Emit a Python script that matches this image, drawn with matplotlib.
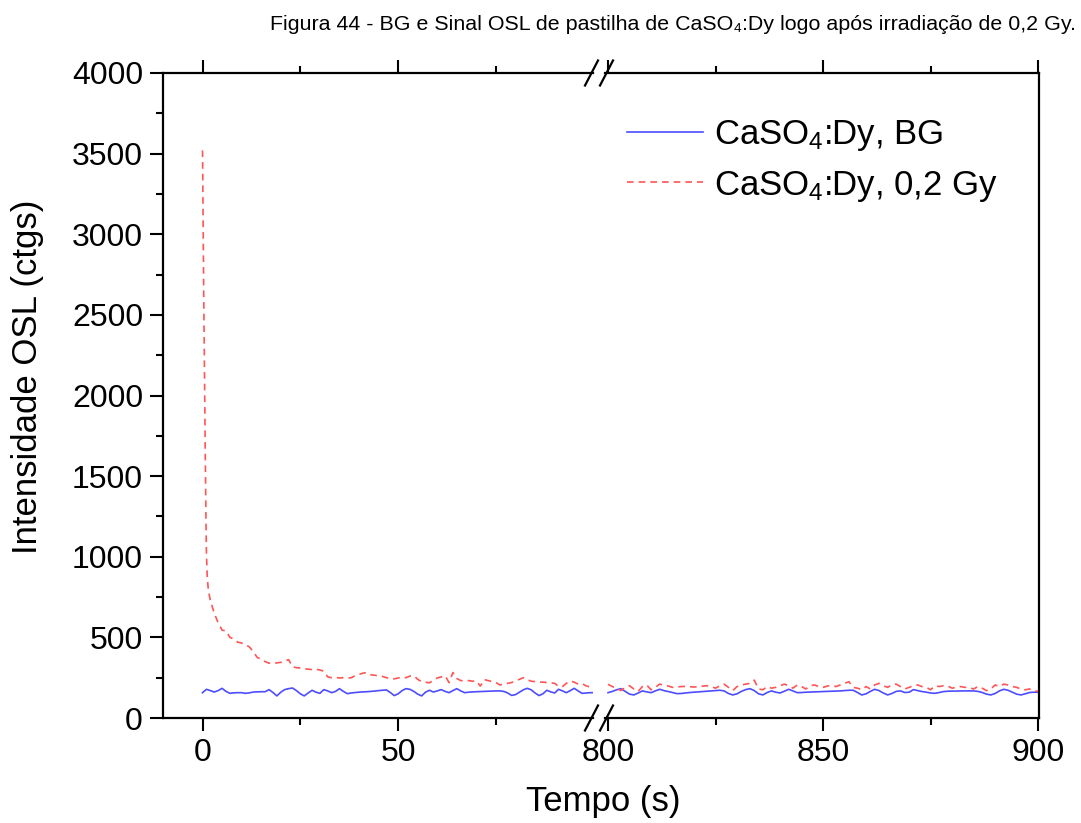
import matplotlib
matplotlib.use("Agg")
import matplotlib.pyplot as plt
from matplotlib.lines import Line2D
from matplotlib.ticker import MultipleLocator

plt.rcParams['font.family'] = ['Liberation Sans', 'DejaVu Sans']
plt.rcParams['mathtext.fontset'] = 'custom'
plt.rcParams['mathtext.rm'] = 'Liberation Sans'
plt.rcParams['mathtext.it'] = 'Liberation Sans'

title = "Figura 44 - BG e Sinal OSL de pastilha de CaSO\u2084:Dy logo após irradiação de 0,2 Gy."
xlabel = "Tempo (s)"
ylabel = "Intensidade OSL (ctgs)"
label_bg = r"CaSO$_4$:Dy, BG"
label_dose = r"CaSO$_4$:Dy, 0,2 Gy"

# ---- left segment (0-100 s) ----
red_left_t = [0, 0.1, 0.2, 0.3, 0.4, 0.5, 0.6, 0.7, 0.8, 0.9, 1.0, 1.2, 1.5, 2] + list(range(3, 101))
red_left_v = [3520, 3250, 2950, 2650, 2400, 2150, 1900, 1650, 1420, 1200, 1020, 880, 790, 730,
              650, 590, 545, 540, 500, 490, 470, 465, 455, 440,
              410, 375, 365, 350, 340, 338, 342, 345, 352, 362,
              318, 312, 310, 305, 303, 300, 302, 298, 290, 255,
              250, 252, 248, 250, 247, 250, 262, 270, 278, 282,
              268, 265, 262, 258, 250, 245, 243, 248, 252, 250,
              260, 262, 240, 225, 222, 218, 235, 248, 255, 262,
              220, 282, 245, 232, 230, 232, 228, 230, 198, 238,
              232, 226, 220, 205, 210, 215, 220, 230, 240, 250,
              238, 228, 226, 224, 222, 220, 218, 215, 196, 195,
              215, 230, 222, 210, 212, 200, 192, 186]

blue_left_t = list(range(0, 101))
blue_left_v = [157, 178, 170, 161, 170, 184, 165, 153, 156, 157,
               157, 153, 156, 161, 162, 163, 163, 176, 158, 137,
               160, 176, 182, 186, 170, 150, 137, 155, 172, 160,
               153, 176, 168, 157, 165, 182, 165, 151, 155, 158,
               160, 162, 163, 165, 167, 170, 172, 174, 158, 139,
               150, 170, 182, 178, 165, 148, 137, 160, 172, 161,
               168, 176, 165, 157, 170, 182, 168, 157, 160, 162,
               163, 164, 165, 166, 167, 168, 168, 165, 155, 140,
               145, 160, 175, 184, 175, 155, 139, 150, 172, 162,
               155, 178, 168, 157, 170, 184, 168, 153, 155, 157, 157]

# ---- right segment (800-900 s) ----
blue_right_t = list(range(800, 901))
blue_right_v = [157, 165, 175, 182, 165, 148, 143, 155, 168, 162,
                157, 168, 178, 170, 164, 158, 151, 152, 155, 158,
                160, 162, 164, 166, 168, 170, 172, 168, 152, 143,
                150, 165, 176, 182, 170, 150, 143, 158, 168, 160,
                155, 166, 178, 168, 157, 158, 160, 161, 162, 163,
                164, 165, 166, 167, 168, 170, 172, 172, 158, 143,
                150, 165, 178, 170, 155, 143, 152, 165, 168, 158,
                160, 176, 170, 164, 160, 155, 153, 158, 164, 166,
                167, 167, 168, 168, 168, 168, 165, 158, 148, 143,
                152, 168, 178, 172, 160, 148, 143, 150, 158, 160, 160]

red_right_t = list(range(800, 901))
red_right_v = [209, 195, 185, 170, 190, 200, 180, 165, 195, 205,
               175, 190, 210, 205, 198, 190, 192, 195, 196, 194,
               192, 195, 198, 200, 195, 185, 200, 210, 190, 170,
               195, 205, 210, 215, 235, 180, 175, 195, 185, 190,
               200, 210, 200, 185, 205, 195, 180, 200, 205, 195,
               190, 198, 202, 195, 205, 215, 225, 190, 185, 175,
               195, 180, 205, 215, 200, 190, 205, 210, 195, 180,
               190, 200, 205, 195, 190, 175, 200, 195, 200, 198,
               185, 190, 195, 190, 188, 180, 195, 185, 170, 180,
               205, 195, 210, 205, 195, 190, 180, 175, 180, 170, 165]

W, H = 1081, 823
fig = plt.figure(figsize=(W / 100, H / 100), dpi=100)

def fx(px):
    return px / W

def fy(py):
    return (H - py) / H

top_px, bot_px = 73, 718
axL = fig.add_axes([fx(163), fy(bot_px), fx(593 - 163), (bot_px - top_px) / H])
axR = fig.add_axes([fx(605), fy(bot_px), fx(1039 - 605), (bot_px - top_px) / H])

blue = '#4d4dff'
red = '#ff5555'
for ax in (axL, axR):
    ax.plot(blue_left_t if ax is axL else blue_right_t,
            blue_left_v if ax is axL else blue_right_v,
            color=blue, lw=1.2, label=label_bg)
    ax.plot(red_left_t if ax is axL else red_right_t,
            red_left_v if ax is axL else red_right_v,
            color=red, lw=1.2, ls=(0, (4, 3)), label=label_dose)
    ax.set_ylim(0, 4000)
    for s in ax.spines.values():
        s.set_linewidth(1.6)
    ax.xaxis.set_major_locator(MultipleLocator(50))
    ax.xaxis.set_minor_locator(MultipleLocator(25))
    ax.tick_params(axis='x', which='major', direction='out', length=9.4, width=1.5,
                   top=True, bottom=True, labelsize=23, pad=5)
    ax.tick_params(axis='x', which='minor', direction='out', length=5, width=1.5,
                   top=True, bottom=True)

axL.set_xlim(-10.1, 99.8)
axR.set_xlim(799.3, 900.2)

axL.spines['right'].set_visible(False)
axR.spines['left'].set_visible(False)

axL.yaxis.set_major_locator(MultipleLocator(500))
axL.yaxis.set_minor_locator(MultipleLocator(250))
axL.tick_params(axis='y', which='major', direction='out', length=9.4, width=1.5,
                labelsize=23, pad=5)
axL.tick_params(axis='y', which='minor', direction='out', length=5, width=1.5)
axR.tick_params(axis='y', which='both', left=False, right=False, labelleft=False)

# break marks
for yc in (top_px, bot_px):
    for xc in (591.5, 606.5):
        fig.add_artist(Line2D([fx(xc - 6.5), fx(xc + 6.5)], [fy(yc + 12.5), fy(yc - 12.5)],
                              transform=fig.transFigure, color='black', lw=1.6,
                              clip_on=False))

fig.text(fx(603), fy(802), xlabel, ha='center', va='center', fontsize=25)
fig.text(fx(28), fy(377), ylabel, ha='center', va='center', rotation=90, fontsize=25)
fig.text(fx(673), fy(25), title, ha='center', va='center', fontsize=15.4)

handles, labels = axR.get_legend_handles_labels()
fig.legend(handles, labels, loc='upper left', bbox_to_anchor=(fx(627), fy(118)),
           frameon=False, fontsize=25, handlelength=2.2, handletextpad=0.3,
           borderpad=0, borderaxespad=0, labelspacing=0.45)

fig.savefig('out.png', dpi=100)
